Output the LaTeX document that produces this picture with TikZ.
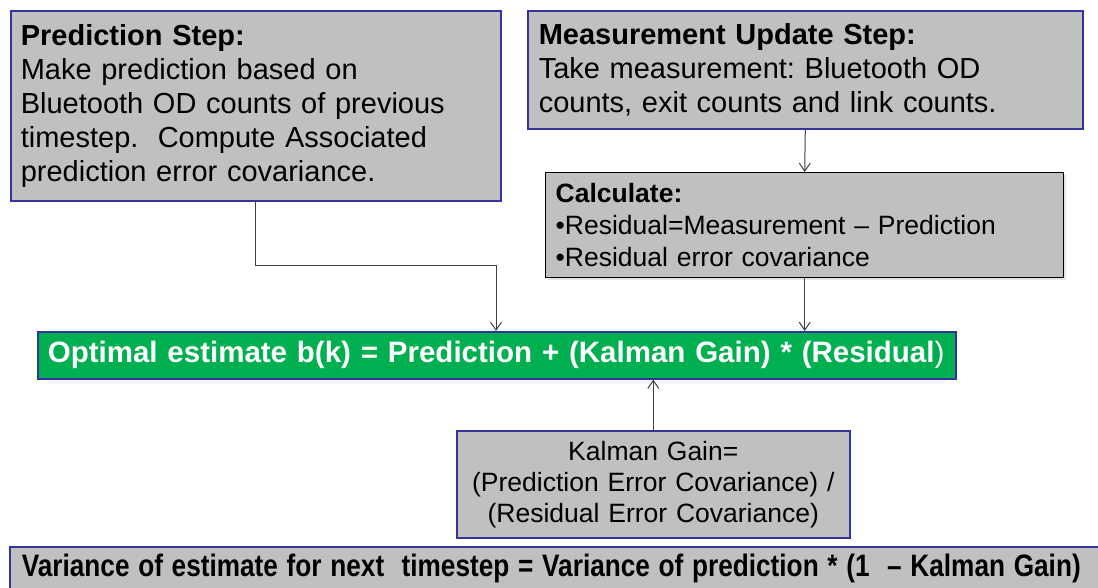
\documentclass[tikz,border=0pt]{standalone}
\usepackage{fontspec}
\setmainfont{Liberation Sans}
\usetikzlibrary{arrows.meta, shadows}
\definecolor{boxgray}{HTML}{C0C0C0}
\definecolor{boxblue}{HTML}{3333A0}
\definecolor{estgreen}{HTML}{00B050}
\frenchspacing
\tikzset{>={Straight Barb[length=8pt,width=11pt]},
  stepbox/.style={draw=boxblue, line width=1.6pt, fill=boxgray, anchor=north west,
    inner xsep=10pt, inner ysep=0pt, align=left},
  calcbox/.style={stepbox, draw=black, line width=1.4pt,
    drop shadow={shadow xshift=2pt, shadow yshift=-2pt, fill=black!20}},
  flow/.style={->, draw=black!75, line width=1pt}}

\begin{document}
\begin{tikzpicture}[x=1pt,y=-1pt]
\useasboundingbox (0,0) rectangle (1098,588);
\node[stepbox, minimum width=490, minimum height=190, text width=470,
  font=\fontsize{29}{34}\selectfont] (pred) at (10,10)
  {\textbf{Prediction Step:}\\ Make prediction based on\\ Bluetooth OD counts of previous\\
   timestep.\ \ Compute Associated\\ prediction error covariance.};
\node[stepbox, minimum width=555, minimum height=118, text width=533, inner xsep=11pt,
  font=\fontsize{29}{34}\selectfont] (meas) at (527,10)
  {\textbf{Measurement Update Step:}\\ Take measurement: Bluetooth OD\\
   counts, exit counts and link counts.};
\node[calcbox, minimum width=518, minimum height=105, text width=498,
  font=\fontsize{26.5}{32}\selectfont] (calc) at (545,172)
  {\textbf{Calculate:}\\ \textbullet Residual=Measurement -- Prediction\\
   \textbullet Residual error covariance};
\node[stepbox, fill=estgreen, text=white, minimum width=918, minimum height=47, text width=898,
  font=\fontsize{29.5}{34}\selectfont] (est) at (37,331)
  {\textbf{Optimal estimate b(k) = Prediction + (Kalman Gain) * (Residual})};
\node[stepbox, align=center, minimum width=393, minimum height=107, text width=373,
  font=\fontsize{26.5}{31}\selectfont] (gain) at (456,430)
  {Kalman Gain=\\ (Prediction Error Covariance) /\\ (Residual Error Covariance)};
\node[stepbox, minimum width=1100, minimum height=44, text width=1080, inner xsep=12pt,
  font=\fontsize{31}{34}\selectfont] (var) at (9,546)
  {\scalebox{0.845}[1]{\textbf{Variance of estimate for next\ \ timestep = Variance of prediction * (1\ \ -- Kalman Gain)}}};
\coordinate (bend) at (0,266);
\coordinate (predin) at (496,331);
\draw[flow] (pred.south) -- (pred.south |- bend) -| (predin);
\draw[flow] (meas.south) -- (calc.north);
\draw[flow] (calc.south) -- (calc.south |- est.north);
\draw[flow] (gain.north) -- (gain.north |- est.south);
\end{tikzpicture}
\end{document}
